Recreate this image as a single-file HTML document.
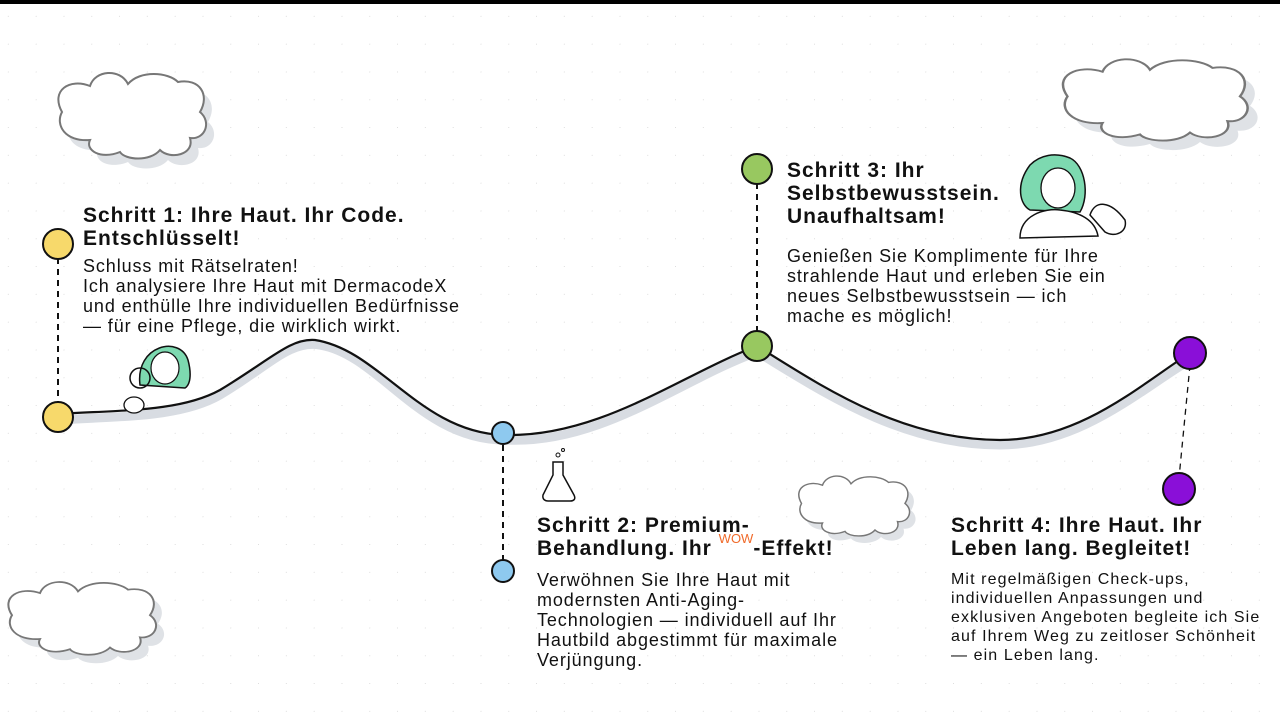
<!DOCTYPE html>
<html><head><meta charset="utf-8"><style>
html,body{margin:0;padding:0;background:#fff}
body{width:1280px;height:720px;position:relative;overflow:hidden;font-family:"Liberation Sans",sans-serif;color:#111}
.t{position:absolute;font-weight:bold;font-size:21px;line-height:23px;letter-spacing:1px;color:#111;white-space:nowrap}
.p{position:absolute;font-size:18px;line-height:20px;letter-spacing:0.9px;color:#111;white-space:nowrap}
</style></head><body>
<svg width="1280" height="720" style="position:absolute;left:0;top:0">
<defs><pattern id="d" width="27.8" height="27.8" patternUnits="userSpaceOnUse" x="-19" y="-11"><circle cx="27.8" cy="27.8" r="1" fill="#d4d4d4"/></pattern></defs>
<rect width="1280" height="720" fill="url(#d)"/>
<rect width="1280" height="4" fill="#000"/>
<g id="c1">
<path d="M62,112 C50,90 70,78 90,86 C95,70 120,68 128,84 C140,70 168,72 178,82 C200,78 210,95 200,112 C212,122 205,140 190,138 C195,155 170,160 160,150 C150,162 125,160 120,152 C100,160 85,150 90,140 C65,142 55,125 62,112Z" fill="#dfe2e6" transform="translate(8,10)"/>
<path d="M62,112 C50,90 70,78 90,86 C95,70 120,68 128,84 C140,70 168,72 178,82 C200,78 210,95 200,112 C212,122 205,140 190,138 C195,155 170,160 160,150 C150,162 125,160 120,152 C100,160 85,150 90,140 C65,142 55,125 62,112Z" fill="#fff" stroke="#777" stroke-width="2"/>
</g>
<use href="#c1" transform="translate(990,-10) scale(1.25,0.95)"/>
<use href="#c1" transform="translate(755,425) scale(0.75,0.7)"/>
<use href="#c1" transform="translate(-50,520) scale(1,0.85)"/>
<path d="M58,420 C120,416 180,418 220,395 C270,365 290,340 320,345 C380,355 420,440 505,440 C600,445 680,380 757,352 C820,390 900,445 1000,445 C1080,445 1140,390 1190,360" fill="none" stroke="#d8dce2" stroke-width="9"/>
<path d="M58,414 C120,410 180,412 220,390 C270,360 290,338 315,340 C380,350 420,432 503,435 C600,438 680,375 757,346 C820,385 900,440 1000,440 C1080,440 1140,385 1190,353" fill="none" stroke="#111" stroke-width="2.2"/>
<g stroke="#111" stroke-width="2" stroke-dasharray="6,5">
<line x1="58" y1="258" x2="58" y2="405"/>
<line x1="503" y1="445" x2="503" y2="560"/>
<line x1="757" y1="183" x2="757" y2="335"/>
<line x1="1190" y1="365" x2="1179" y2="478" stroke-width="1.3"/>
</g>
<g stroke="#111" stroke-width="2">
<circle cx="58" cy="244" r="15" fill="#f7d96b"/>
<circle cx="58" cy="417" r="15" fill="#f7d96b"/>
<circle cx="503" cy="433" r="11" fill="#8ec9ef"/>
<circle cx="503" cy="571" r="11" fill="#8ec9ef"/>
<circle cx="757" cy="169" r="15" fill="#98c860"/>
<circle cx="757" cy="346" r="15" fill="#98c860"/>
<circle cx="1190" cy="353" r="16" fill="#8a0fd8"/>
<circle cx="1179" cy="489" r="16" fill="#8a0fd8"/>
</g>
<path d="M140,385 C135,345 180,335 188,360 C192,375 190,385 185,388 Z" fill="#7dd9b0" stroke="#111" stroke-width="1.5"/>
<ellipse cx="165" cy="368" rx="14" ry="16" fill="#fff" stroke="#111" stroke-width="1.2"/>
<circle cx="140" cy="378" r="10" fill="none" stroke="#111" stroke-width="1.5"/>
<ellipse cx="134" cy="405" rx="10" ry="8" fill="#fff" stroke="#111" stroke-width="1.3"/>
<path d="M553,462 L553,475 L543,495 C542,500 546,501 548,501 L570,501 C574,501 576,499 574,495 L563,475 L563,462 Z" fill="#fff" stroke="#111" stroke-width="1.5"/>
<circle cx="558" cy="455" r="2" fill="none" stroke="#111"/><circle cx="563" cy="450" r="1.5" fill="none" stroke="#111"/>
<path d="M1030,165 C1015,185 1020,205 1030,210 L1080,212 C1090,195 1085,165 1070,158 C1055,152 1040,155 1030,165Z" fill="#7dd9b0" stroke="#111" stroke-width="1.5"/>
<ellipse cx="1058" cy="188" rx="17" ry="20" fill="#fff" stroke="#111" stroke-width="1.3"/>
<path d="M1020,238 C1020,215 1045,208 1060,210 C1080,212 1095,220 1098,236 Z" fill="#fff" stroke="#111" stroke-width="1.5"/>
<path d="M1090,215 C1095,200 1110,200 1125,220 C1128,232 1115,238 1105,232 Z" fill="#fff" stroke="#111" stroke-width="1.5"/>
</svg>
<div class="t" style="left:83px;top:204px">Schritt 1: Ihre Haut. Ihr Code.<br>Entschlüsselt!</div>
<div class="p" style="left:83px;top:256px">Schluss mit Rätselraten!<br>Ich analysiere Ihre Haut mit DermacodeX<br>und enthülle Ihre individuellen Bedürfnisse<br>— für eine Pflege, die wirklich wirkt.</div>
<div class="t" style="left:787px;top:159px">Schritt 3: Ihr<br>Selbstbewusstsein.<br>Unaufhaltsam!</div>
<div class="p" style="left:787px;top:246px">Genießen Sie Komplimente für Ihre<br>strahlende Haut und erleben Sie ein<br>neues Selbstbewusstsein — ich<br>mache es möglich!</div>
<div class="t" style="left:537px;top:514px">Schritt 2: Premium-<br>Behandlung. Ihr <span style="color:#f06a2a;font-weight:normal;font-size:13px;letter-spacing:0;position:relative;top:-12px">WOW</span>-Effekt!</div>
<div class="p" style="left:537px;top:570px">Verwöhnen Sie Ihre Haut mit<br>modernsten Anti-Aging-<br>Technologien — individuell auf Ihr<br>Hautbild abgestimmt für maximale<br>Verjüngung.</div>
<div class="t" style="left:951px;top:514px">Schritt 4: Ihre Haut. Ihr<br>Leben lang. Begleitet!</div>
<div class="p" style="left:951px;top:570px;font-size:16px;line-height:19px;letter-spacing:1.1px">Mit regelmäßigen Check-ups,<br>individuellen Anpassungen und<br>exklusiven Angeboten begleite ich Sie<br>auf Ihrem Weg zu zeitloser Schönheit<br>— ein Leben lang.</div>
</body></html>
